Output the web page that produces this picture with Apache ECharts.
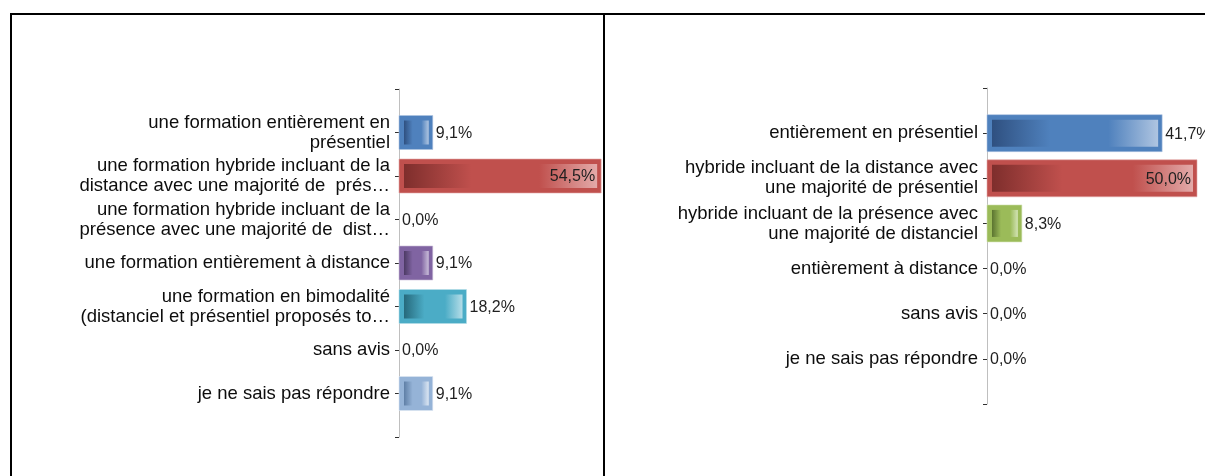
<!DOCTYPE html>
<html>
<head>
<meta charset="utf-8">
<script src="https://cdn.jsdelivr.net/npm/echarts@6/dist/echarts.min.js"></script>
<style>
html,body{margin:0;padding:0;background:#fff;}
#chart{width:1205px;height:476px;}
</style>
</head>
<body>
<div id="chart"></div>
<script>
// ---- data ----
const leftCategories = [
  'une formation entièrement en\nprésentiel',
  'une formation hybride incluant de la\ndistance avec une majorité de  prés…',
  'une formation hybride incluant de la\nprésence avec une majorité de  dist…',
  'une formation entièrement à distance',
  'une formation en bimodalité\n(distanciel et présentiel proposés to…',
  'sans avis',
  'je ne sais pas répondre'
];
const leftValues = [9.1, 54.5, 0.0, 9.1, 18.2, 0.0, 9.1];

const rightCategories = [
  'entièrement en présentiel',
  'hybride incluant de la distance avec\nune majorité de présentiel',
  'hybride incluant de la présence avec\nune majorité de distanciel',
  'entièrement à distance',
  'sans avis',
  'je ne sais pas répondre'
];
const rightValues = [41.7, 50.0, 8.3, 0.0, 0.0, 0.0];

// ---- styles ----
const palettes = {
  blue:      {base:'#4F81BD', dark:'#2F5080', light:'#AFC5E1'},
  red:       {base:'#C0504D', dark:'#7E2E2C', light:'#E3AAA9'},
  green:     {base:'#9BBB59', dark:'#5B7430', light:'#D3E3B5'},
  purple:    {base:'#8064A2', dark:'#4C3A64', light:'#C9BDD9'},
  teal:      {base:'#4BACC6', dark:'#26697B', light:'#B5DDE8'},
  orange:    {base:'#F79646', dark:'#B35A10', light:'#FBD1AE'},
  lightblue: {base:'#95B3D7', dark:'#5F7FA6', light:'#DCE6F2'}
};
const leftColorKeys = ['blue','red','green','purple','teal','orange','lightblue'];
const rightColorKeys = ['blue','red','green','purple','teal','orange'];

const FONT = 'Liberation Sans, Arial, sans-serif';
const fmt = v => v.toFixed(1).replace('.', ',') + '%';

function pad(arr){ return [''].concat(arr, ['']); }

function barSeries(values, axisIdx, colorKeys, barH, maxVal){
  return {
    type:'custom',
    xAxisIndex: axisIdx,
    yAxisIndex: axisIdx,
    encode:{x:0, y:1},
    data: values.map((v,i)=>[v, i+1]),
    clip:false,
    renderItem:function(params, api){
      const v = api.value(0);
      const idx = api.value(1);
      const p0 = api.coord([0, idx]);
      const p1 = api.coord([v, idx]);
      const w = p1[0]-p0[0];
      const y = p0[1]-barH/2;
      const pal = palettes[colorKeys[params.dataIndex]];
      const children = [];
      if (w > 0){
        children.push({type:'rect', shape:{x:p0[0], y:y, width:w, height:barH},
          style:{fill:pal.base, stroke:pal.light, lineWidth:0.6}});
        if (w > 10){
          children.push({type:'rect', shape:{x:p0[0]+5, y:y+5, width:w-9, height:barH-10},
            style:{fill:new echarts.graphic.LinearGradient(0,0,1,0,[
              {offset:0,color:pal.dark},
              {offset:0.35,color:pal.base},
              {offset:0.7,color:pal.base},
              {offset:1,color:pal.light}
            ])}});
        }
      }
      const inside = v/maxVal > 0.9;
      children.push({type:'text', style:{
        text: fmt(v),
        x: inside ? p1[0]-6 : p1[0]+3,
        y: p0[1]+1,
        align: inside ? 'right' : 'left',
        verticalAlign:'middle',
        fill:'#1f1f1f',
        fontSize:16,
        fontFamily:FONT
      }});
      return {type:'group', children:children};
    }
  };
}

function catAxis(gridIdx, cats){
  return {
    type:'category',
    gridIndex:gridIdx,
    data:pad(cats),
    inverse:true,
    boundaryGap:false,
    axisLine:{show:true, lineStyle:{color:'#BFBFBF', width:1}},
    axisTick:{show:true, length:4, inside:false, lineStyle:{color:'#303030', width:1}},
    splitLine:{show:false},
    axisLabel:{
      show:true, margin:9, color:'#0d0d0d', fontSize:18.5, lineHeight:20,
      fontFamily:FONT, align:'right', interval:0
    }
  };
}

const chart = echarts.init(document.getElementById('chart'), null, {renderer:'canvas'});
chart.setOption({
  animation:false,
  backgroundColor:'#fff',
  grid:[
    {left:399, top:89, width:204, height:348, containLabel:false},
    {left:987, top:88, width:210, height:316, containLabel:false}
  ],
  xAxis:[
    {type:'value', gridIndex:0, min:0, max:55, show:false},
    {type:'value', gridIndex:1, min:0, max:50, show:false}
  ],
  yAxis:[ catAxis(0, leftCategories), catAxis(1, rightCategories) ],
  series:[
    barSeries(leftValues, 0, leftColorKeys, 34, 55),
    barSeries(rightValues, 1, rightColorKeys, 37, 50)
  ],
  graphic:[
    {type:'line', shape:{x1:10, y1:14, x2:1205, y2:14}, style:{stroke:'#000', lineWidth:2}, z:100},
    {type:'line', shape:{x1:11, y1:13, x2:11, y2:476}, style:{stroke:'#000', lineWidth:2}, z:100},
    {type:'line', shape:{x1:604, y1:13, x2:604, y2:476}, style:{stroke:'#000', lineWidth:2}, z:100}
  ]
});
</script>
</body>
</html>
